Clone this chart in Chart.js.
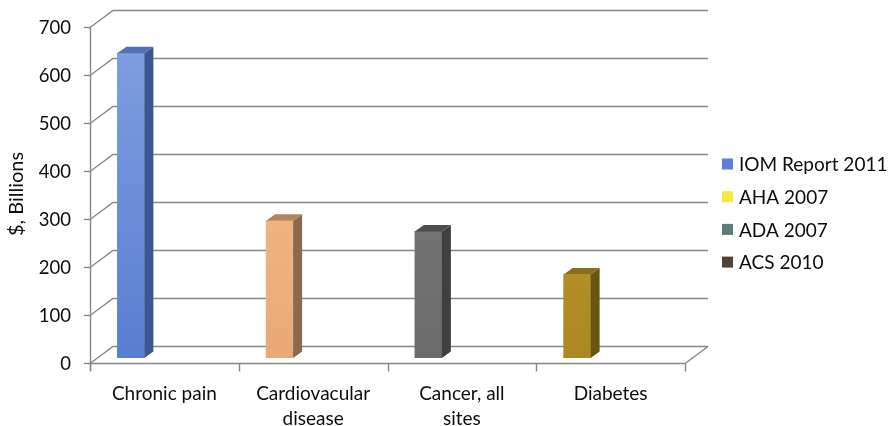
<!DOCTYPE html>
<html>
<head>
<meta charset="utf-8">
<script src="https://cdn.jsdelivr.net/npm/chart.js@4/dist/chart.umd.min.js"></script>
<style>
  html, body { margin: 0; padding: 0; background: #fff; }
  #wrap { width: 894px; height: 426px; position: relative; }
</style>
</head>
<body>
<div id="wrap"><canvas id="c" width="894" height="426"></canvas></div>
<script>
// Cost of illness, $ billions
const categories = [['Chronic pain'], ['Cardiovacular', 'disease'], ['Cancer, all', 'sites'], ['Diabetes']];
const costs = [635, 286, 263.8, 174];
const legendLabels = ['IOM Report 2011', 'AHA 2007', 'ADA 2007', 'ACS 2010'];
const legendColors = ['#5b80d6', '#f5eb3c', '#5f7a78', '#4f443c'];
const yTicks = [0, 100, 200, 300, 400, 500, 600, 700];

// front / side / top shades for each column
const faceFront = [['#7e9de2', '#5a7ed2'], ['#efb482', '#e9a978'], ['#737373', '#6c6c6c'], ['#b38f26', '#ab8820']];
const faceSide = ['#3d5690', '#8a6a4c', '#404040', '#6a5414'];
const faceTop = ['#5670b4', '#b3845a', '#4e4e4e', '#8c6e18'];

const FONT = 'Lato, "Open Sans", "Liberation Sans", sans-serif';
const DEPTH = { x: 23, y: -17 };       // front edge of the floor to the back wall
const BAR_SHIFT = { x: -33.5, y: -5 }; // column row sits inside the floor
const BAR_DEPTH = { x: 9, y: -6.5 };   // depth of each column
const GRID = '#878787';

const frame3d = {
  id: 'frame3d',
  beforeDatasetsDraw(chart) {
    const { ctx, chartArea: a } = chart;
    const y = chart.scales.y, x = chart.scales.x;
    ctx.save();
    ctx.strokeStyle = GRID;
    ctx.lineWidth = 1.4;
    // back wall gridlines with their diagonal stubs on the side wall
    yTicks.forEach(v => {
      const py = Math.round(y.getPixelForValue(v)) + 0.5;
      ctx.beginPath();
      ctx.moveTo(a.left, py);
      ctx.lineTo(a.left + DEPTH.x, py + DEPTH.y);
      ctx.lineTo(a.right + DEPTH.x, py + DEPTH.y);
      ctx.stroke();
      // tick mark
      ctx.beginPath();
      ctx.moveTo(a.left - 6, py);
      ctx.lineTo(a.left, py);
      ctx.stroke();
    });
    // value axis
    ctx.beginPath();
    ctx.moveTo(a.left + 0.5, y.getPixelForValue(700));
    ctx.lineTo(a.left + 0.5, a.bottom + 8);
    ctx.stroke();
    // floor front edge and right edge
    const fy = Math.round(y.getPixelForValue(0)) + 0.5;
    ctx.beginPath();
    ctx.moveTo(a.left, fy);
    ctx.lineTo(a.right, fy);
    ctx.lineTo(a.right + DEPTH.x, fy + DEPTH.y);
    ctx.stroke();
    // category separators
    const n = categories.length;
    const w = (a.right - a.left) / n;
    for (let i = 0; i <= n; i++) {
      const px = Math.round(a.left + i * w) + 0.5;
      ctx.beginPath();
      ctx.moveTo(px, fy);
      ctx.lineTo(px, fy + 8);
      ctx.stroke();
    }
    // value labels
    ctx.fillStyle = '#0d0d0d';
    ctx.font = '18.5px ' + FONT;
    ctx.textAlign = 'right';
    ctx.textBaseline = 'middle';
    yTicks.forEach(v => ctx.fillText(String(v), a.left - 19, y.getPixelForValue(v) + 1));
    // category labels
    ctx.font = '19px ' + FONT;
    ctx.textAlign = 'center';
    ctx.textBaseline = 'middle';
    categories.forEach((lines, i) => {
      const px = x.getPixelForValue(i);
      lines.forEach((t, k) => ctx.fillText(t, px, fy + 30 + k * 25));
    });
    // axis title
    ctx.save();
    ctx.translate(17, 194);
    ctx.rotate(-Math.PI / 2);
    ctx.font = '20px ' + FONT;
    ctx.fillText('$, Billions', 0, 0);
    ctx.restore();
    // legend
    ctx.textAlign = 'left';
    ctx.font = '19px ' + FONT;
    legendLabels.forEach((t, i) => {
      const ly = 164 + i * 32.7;
      ctx.fillStyle = legendColors[i];
      ctx.fillRect(722, ly - 5.5, 11, 11);
      ctx.fillStyle = '#0d0d0d';
      ctx.fillText(t, 739, ly + 1);
    });
    ctx.restore();
    // shift the column row back into the floor
    ctx.save();
    ctx.translate(BAR_SHIFT.x, BAR_SHIFT.y);
  },
  afterDatasetsDraw(chart) {
    const { ctx } = chart;
    const meta = chart.getDatasetMeta(0);
    meta.data.forEach((bar, i) => {
      const p = bar.getProps(['x', 'y', 'base', 'width'], true);
      const l = p.x - p.width / 2, r = p.x + p.width / 2;
      // side face
      ctx.fillStyle = faceSide[i];
      ctx.beginPath();
      ctx.moveTo(r, p.y);
      ctx.lineTo(r + BAR_DEPTH.x, p.y + BAR_DEPTH.y);
      ctx.lineTo(r + BAR_DEPTH.x, p.base + BAR_DEPTH.y);
      ctx.lineTo(r, p.base);
      ctx.closePath();
      ctx.fill();
      // top face
      ctx.fillStyle = faceTop[i];
      ctx.beginPath();
      ctx.moveTo(l, p.y);
      ctx.lineTo(l + BAR_DEPTH.x, p.y + BAR_DEPTH.y);
      ctx.lineTo(r + BAR_DEPTH.x, p.y + BAR_DEPTH.y);
      ctx.lineTo(r, p.y);
      ctx.closePath();
      ctx.fill();
    });
    ctx.restore();
  }
};

const ctx = document.getElementById('c').getContext('2d');
new Chart(ctx, {
  type: 'bar',
  data: {
    labels: categories.map(c => c.join(' ')),
    datasets: [{
      label: legendLabels[0],
      data: costs,
      barThickness: 27,
      borderWidth: 0,
      backgroundColor: (c) => {
        const i = c.dataIndex;
        const ys = c.chart.scales && c.chart.scales.y;
        if (i === undefined || !ys || !c.chart.chartArea) return faceFront[i || 0][0];
        const top = ys.getPixelForValue(costs[i]);
        const bottom = ys.getPixelForValue(0);
        if (!isFinite(top) || !isFinite(bottom)) return faceFront[i][0];
        const g = c.chart.ctx.createLinearGradient(0, top + BAR_SHIFT.y, 0, bottom + BAR_SHIFT.y);
        g.addColorStop(0, faceFront[i][0]);
        g.addColorStop(1, faceFront[i][1]);
        return g;
      }
    }]
  },
  options: {
    responsive: false,
    animation: false,
    events: [],
    layout: { padding: { left: 90, right: 209, top: 27, bottom: 63 } },
    plugins: { legend: { display: false }, tooltip: { enabled: false } },
    scales: {
      x: { display: false, offset: true },
      y: { display: false, min: 0, max: 700, ticks: { stepSize: 100 } }
    }
  },
  plugins: [frame3d]
});
</script>
</body>
</html>
